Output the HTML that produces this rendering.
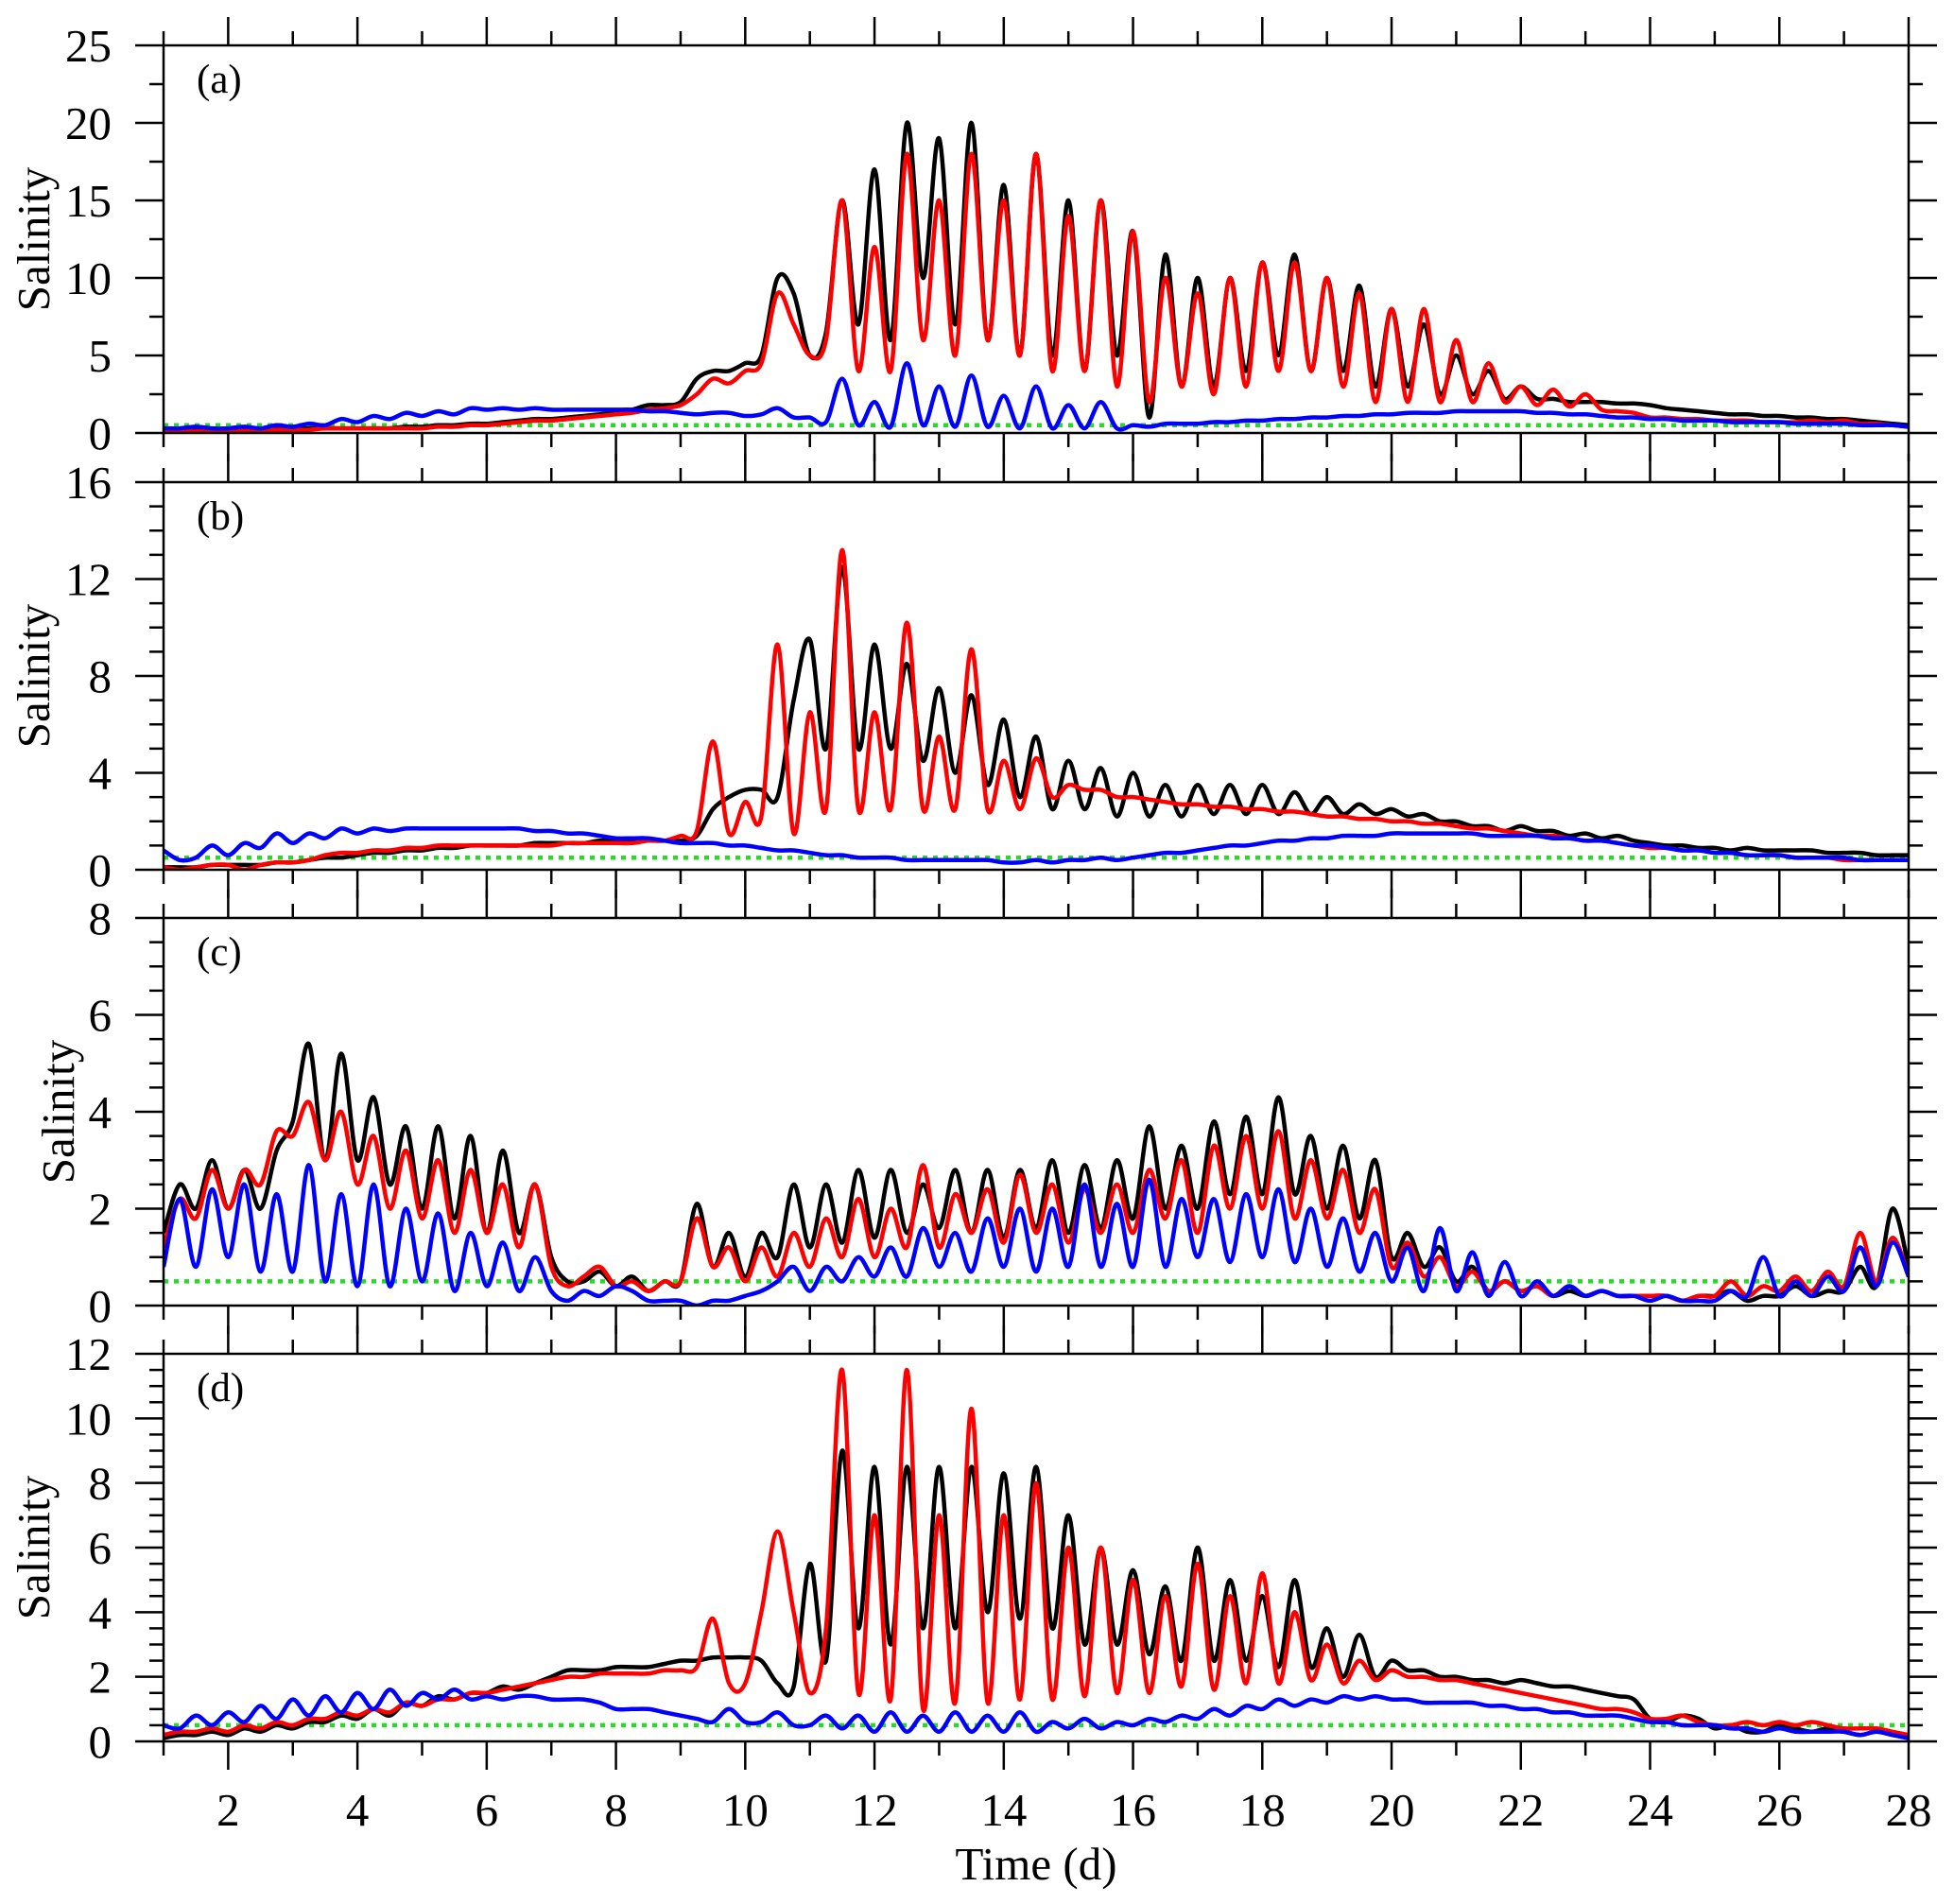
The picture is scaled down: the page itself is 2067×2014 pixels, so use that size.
<!DOCTYPE html>
<html><head><meta charset="utf-8"><style>
html,body{margin:0;padding:0;background:#fff}
svg{display:block}
text{font-family:"Liberation Serif",serif;fill:#000}
</style></head><body>
<svg id="chart" width="2067" height="2014" viewBox="0 0 2067 2014"></svg>
<script>
// time axis: t = 1 + 0.25*i
const days = [1,2,3,4,5,6,7,8,9,10,11,12,13,14,15,16,17,18,19,20,21,22,23,24,25,26,27,28];
const xTickLabels = [2,4,6,8,10,12,14,16,18,20,22,24,26,28];
const threshold = 0.5;

const aK = [.2,.2,.2,.2, .2,.2,.2,.3, .3,.3,.3,.3, .3,.3,.3,.4, .4,.5,.5,.6, .6,.7,.8,.9, .9,1.0,1.1,1.2, 1.3,1.5,1.8,1.8, 2.0,3.5,4,4, 4.5,5,10,9, 5,6.5,15,7, 17,6,20,10, 19,7,20,6, 16,5,18,5, 15,4,15,5, 13,1,11.5,3, 10,3,10,4, 11,5,11.5,4, 10,4,9.5,3, 8,3,7,2.5, 5,2.5,4,2.2, 3,2.2,2.2,2, 2,2,1.9,1.9, 1.8,1.6,1.5,1.4, 1.3,1.2,1.2,1.1, 1.1,1.0,1.0,.9, .9,.8,.7,.6, .5];
const aR = [.1,.1,.1,.1, .1,.2,.2,.2, .2,.2,.3,.3, .3,.3,.3,.3, .3,.4,.4,.5, .5,.6,.7,.8, .8,.9,1.0,1.1, 1.2,1.3,1.5,1.6, 1.8,2.5,3.5,3.2, 4,4.5,9,7, 5,6,15,4, 12,4,18,6, 15,5,18,6, 15,5,18,4, 14,4,15,3, 13,2,10,3, 9,2.5,10,3, 11,4,11,4, 10,3,9,2, 8,2,8,2, 6,2,4.5,2, 3,1.8,2.8,1.7, 2.5,1.5,1.4,1.3, 1.0,1.0,.9,.9, .8,.8,.8,.7, .7,.7,.8,.7, .8,.6,.6,.5, .4];
const aB = [.3,.3,.4,.3, .3,.4,.3,.5, .4,.6,.5,.9, .7,1.1,.9,1.3, 1.1,1.4,1.2,1.6, 1.5,1.6,1.5,1.6, 1.5,1.5,1.5,1.5, 1.5,1.5,1.4,1.4, 1.3,1.2,1.3,1.3, 1.1,1.2,1.6,1.0, 1.0,.7,3.5,.5, 2,.4,4.5,.5, 3,.4,3.7,.4, 2.4,.3,3,.3, 1.8,.3,2,.3, .5,.4,.6,.6, .6,.7,.7,.8, .8,.9,.9,1.0, 1.0,1.1,1.1,1.2, 1.2,1.3,1.3,1.3, 1.4,1.4,1.4,1.4, 1.4,1.3,1.3,1.2, 1.2,1.1,1.0,1.0, .9,.9,.8,.8, .8,.7,.7,.7, .7,.6,.6,.6, .6,.5,.5,.5, .4];

const bK = [.1,.1,.1,.2, .2,.2,.2,.3, .3,.4,.5,.5, .6,.7,.7,.8, .8,.9,.9,1.0, 1.0,1.0,1.0,1.1, 1.1,1.1,1.1,1.2, 1.2,1.2,1.2,1.2, 1.2,1.4,2.5,3.0, 3.3,3.3,3.0,7, 9.5,5,12.5,5, 9.3,5,8.5,4.5, 7.5,4,7.2,3.5, 6.2,3,5.5,2.5, 4.5,2.5,4.2,2.2, 4,2.2,3.5,2.2, 3.5,2.3,3.5,2.3, 3.5,2.3,3.2,2.3, 3,2.3,2.7,2.3, 2.5,2.2,2.3,2.0, 2.0,1.8,1.8,1.6, 1.8,1.6,1.6,1.4, 1.5,1.3,1.4,1.2, 1.1,1.0,1.0,.9, .9,.8,.9,.8, .8,.8,.8,.7, .7,.7,.6,.6, .6];
const bR = [.1,0,.1,.2, .2,0,.2,.3, .3,.4,.6,.7, .7,.8,.8,.9, .9,1.0,1.0,1.0, 1.0,1.0,1.0,1.0, 1.0,1.1,1.1,1.1, 1.1,1.1,1.2,1.2, 1.4,1.6,5.3,1.5, 2.8,2.2,9.3,1.5, 6.5,2.5,13.2,2.5, 6.5,2.5,10.2,2.5, 5.5,2.5,9.1,2.5, 4.5,2.5,4.6,3.0, 3.5,3.3,3.3,3.0, 3.0,2.9,2.8,2.7, 2.7,2.6,2.6,2.5, 2.5,2.4,2.4,2.3, 2.2,2.2,2.1,2.1, 2.0,2.0,1.9,1.9, 1.8,1.7,1.7,1.6, 1.5,1.4,1.4,1.3, 1.2,1.2,1.1,1.0, .9,.9,.8,.8, .7,.7,.6,.6, .6,.5,.5,.5, .4,.4,.4,.4, .4];
const bB = [.8,.4,.5,1.0, .6,1.1,.9,1.5, 1.1,1.5,1.3,1.7, 1.5,1.7,1.6,1.7, 1.7,1.7,1.7,1.7, 1.7,1.7,1.7,1.6, 1.6,1.5,1.5,1.4, 1.3,1.3,1.3,1.2, 1.1,1.1,1.1,1.0, 1.0,.9,.8,.8, .7,.6,.6,.5, .5,.5,.4,.4, .4,.4,.4,.4, .3,.3,.4,.3, .4,.4,.5,.4, .5,.6,.7,.7, .8,.9,1.0,1.0, 1.1,1.2,1.2,1.3, 1.3,1.4,1.4,1.4, 1.5,1.5,1.5,1.5, 1.5,1.5,1.4,1.4, 1.4,1.4,1.3,1.3, 1.2,1.2,1.1,1.0, 1.0,.9,.8,.8, .7,.7,.6,.6, .6,.5,.5,.5, .5,.4,.4,.4, .4];

const cK = [1.5,2.5,2.0,3.0, 2.0,2.8,2.0,3.2, 3.8,5.4,3.0,5.2, 3.0,4.3,2.5,3.7, 2.0,3.7,1.8,3.5, 1.5,3.2,1.5,2.5, 1.0,.5,.5,.7, .4,.6,.3,.5, .5,2.1,.8,1.5, .6,1.5,1.0,2.5, 1.2,2.5,1.3,2.8, 1.4,2.8,1.5,2.5, 1.6,2.8,1.5,2.8, 1.4,2.8,1.6,3.0, 1.5,2.9,1.6,3.0, 1.8,3.7,2.0,3.3, 2.0,3.8,2.3,3.9, 2.3,4.3,2.3,3.5, 2.0,3.3,1.8,3.0, 1.0,1.5,.8,1.2, .5,.8,.3,.5, .3,.4,.2,.3, .2,.3,.2,.2, .2,.2,.1,.2, .2,.3,.1,.2, .2,.4,.2,.3, .3,.8,.4,2.0, .8];
const cR = [1.2,2.2,1.8,2.8, 2.0,2.8,2.5,3.6, 3.5,4.2,3.0,4.0, 2.5,3.5,2.0,3.2, 1.8,3.0,1.5,2.8, 1.5,2.5,1.2,2.5, .8,.4,.6,.8, .4,.5,.3,.5, .5,1.8,.8,1.2, .5,1.2,.6,1.5, .8,1.8,1.0,2.2, 1.0,2.0,1.2,2.9, 1.2,2.3,1.5,2.4, 1.3,2.7,1.5,2.5, 1.3,2.4,1.5,2.5, 1.5,2.8,1.8,3.0, 1.5,3.3,2.0,3.5, 2.0,3.6,1.8,3.0, 1.8,2.8,1.5,2.4, .8,1.3,.6,1.0, .4,.7,.3,.5, .3,.4,.2,.4, .2,.3,.2,.2, .2,.2,.1,.2, .2,.5,.2,.4, .3,.6,.3,.7, .4,1.5,.5,1.4, .6];
const cB = [.8,2.2,.8,2.4, 1.0,2.5,.7,2.3, .7,2.9,.5,2.3, .4,2.5,.4,2.0, .5,1.9,.3,1.5, .4,1.3,.3,1.0, .3,.1,.3,.2, .4,.3,.1,.1, .1,0,.1,.1, .2,.3,.5,.8, .3,.8,.5,1.0, .6,1.2,.6,1.6, .8,1.5,.7,1.8, .8,2.0,.7,2.0, .8,2.5,.8,2.1, .8,2.6,.8,2.2, 1.0,2.2,.9,2.3, 1.0,2.4,.9,2.0, .8,1.8,.7,1.5, .5,1.2,.3,1.6, .3,1.1,.2,.9, .2,.5,.2,.4, .2,.3,.2,.2, .1,.2,.1,.1, .1,.3,.2,1.0, .2,.5,.2,.6, .3,1.2,.4,1.3, .6];

const dK = [.1,.2,.2,.3, .2,.4,.3,.5, .4,.6,.6,.8, .7,1.0,.8,1.2, 1.1,1.4,1.3,1.5, 1.5,1.7,1.6,1.8, 2.0,2.2,2.2,2.2, 2.3,2.3,2.3,2.4, 2.5,2.5,2.6,2.6, 2.6,2.5,1.8,1.7, 5.5,2.5,9,3.5, 8.5,3,8.5,3.5, 8.5,3.5,8.5,4, 8.3,3.8,8.5,3.5, 7,3,6,3, 5.3,2.7,4.8,2.5, 6,2.5,5,2.5, 4.5,2.3,5,2.3, 3.5,2.0,3.3,2.0, 2.5,2.2,2.2,2.0, 2.0,1.9,1.9,1.8, 1.9,1.8,1.7,1.7, 1.6,1.5,1.4,1.3, .7,.6,.8,.7, .4,.5,.3,.3, .5,.4,.3,.4, .3,.2,.3,.2, .1];
const dR = [.2,.3,.3,.4, .3,.5,.4,.6, .5,.7,.7,.9, .8,1.0,.9,1.2, 1.1,1.3,1.3,1.5, 1.5,1.6,1.7,1.8, 1.9,2.0,2.0,2.1, 2.1,2.1,2.1,2.2, 2.2,2.3,3.8,1.8, 1.8,4.0,6.5,4.0, 1.5,3.5,11.5,1.5, 7,1.3,11.5,1.0, 7,1.2,10.3,1.2, 7,1.3,8,1.3, 6,1.4,6,1.5, 5,1.5,4.5,1.7, 5.5,1.6,4.5,1.8, 5.2,1.8,4,1.9, 3,1.8,2.5,1.9, 2.2,2.0,2.0,1.9, 1.9,1.8,1.7,1.6, 1.5,1.4,1.3,1.2, 1.1,1.0,1.0,.9, .7,.7,.8,.6, .5,.5,.6,.5, .6,.5,.6,.5, .4,.4,.4,.3, .2];
const dB = [.5,.4,.8,.5, .9,.6,1.1,.7, 1.3,.8,1.4,.9, 1.5,1.0,1.6,1.1, 1.5,1.3,1.6,1.3, 1.4,1.3,1.4,1.4, 1.3,1.3,1.3,1.2, 1.0,1.0,1.0,.9, .8,.7,.6,1.0, .6,.6,.9,.5, .5,.8,.4,.8, .3,.9,.3,.8, .3,.9,.3,.8, .3,.9,.3,.6, .4,.7,.4,.6, .5,.7,.6,.8, .7,1.0,.8,1.1, 1.0,1.3,1.1,1.3, 1.2,1.4,1.3,1.4, 1.3,1.3,1.2,1.2, 1.2,1.2,1.1,1.1, 1.0,1.0,.9,.9, .8,.8,.8,.7, .6,.6,.5,.5, .5,.4,.4,.3, .4,.3,.3,.3, .3,.2,.3,.2, .1];

const panels = [
  {id:'a', top:48, ymax:25, major:5, minor:2.5, ylabels:[0,5,10,15,20,25], series:[aK,aR,aB], labX:36},
  {id:'b', top:510, ymax:16, major:4, minor:1, ylabels:[0,4,8,12,16], series:[bK,bR,bB], labX:36},
  {id:'c', top:971, ymax:8, major:2, minor:0.5, ylabels:[0,2,4,6,8], series:[cK,cR,cB], labX:62},
  {id:'d', top:1432, ymax:12, major:2, minor:0.5, ylabels:[0,2,4,6,8,10,12], series:[dK,dR,dB], labX:36}
];
const colors = ['#000000','#ff0000','#0000ff'];
const names = ['black-series','red-series','blue-series'];
const X0=173, X1=2019, H=410;
const NS='http://www.w3.org/2000/svg';
const svg=document.getElementById('chart');
function xs(t){return X0+(t-1)/27*(X1-X0);}
function mk(tag,attrs,parent){const e=document.createElementNS(NS,tag);for(const k in attrs)e.setAttribute(k,attrs[k]);(parent||svg).appendChild(e);return e;}
function smoothPath(pts){
  let d='M'+pts[0][0].toFixed(1)+','+pts[0][1].toFixed(1);
  for(let i=0;i<pts.length-1;i++){
    const p0=pts[Math.max(0,i-1)],p1=pts[i],p2=pts[i+1],p3=pts[Math.min(pts.length-1,i+2)];
    const c1x=p1[0]+(p2[0]-p0[0])/6,c1y=p1[1]+(p2[1]-p0[1])/6;
    const c2x=p2[0]-(p3[0]-p1[0])/6,c2y=p2[1]-(p3[1]-p1[1])/6;
    d+='C'+c1x.toFixed(1)+','+c1y.toFixed(1)+' '+c2x.toFixed(1)+','+c2y.toFixed(1)+' '+p2[0].toFixed(1)+','+p2[1].toFixed(1);
  }
  return d;
}

panels.forEach((p,pi)=>{
  const g=mk('g',{});
  
  
  const bot=p.top+H;
  const ys=v=>bot-v/p.ymax*H;
  const cp=mk('clipPath',{id:'clip'+p.id},g);
  mk('rect',{x:X0,y:p.top,width:X1-X0,height:H},cp);
  const th=mk('line',{x1:X0,x2:X1,y1:ys(threshold),y2:ys(threshold),stroke:'#22dd22','stroke-width':4.5,'stroke-dasharray':'5 6'},g);
  
  
  [0,1,2].forEach(si=>{
    const arr=p.series[si];
    const pts=arr.map((v,i)=>[xs(1+0.25*i),ys(v)]);
    const path=mk('path',{d:smoothPath(pts),fill:'none',stroke:colors[si],'stroke-width':4.5,'stroke-linejoin':'round','clip-path':'url(#clip'+p.id+')'},g);
    
    
  });
  const fr=mk('rect',{x:X0,y:p.top,width:X1-X0,height:H,fill:'none',stroke:'#000','stroke-width':2.5},g);
  
  
  for(let v=0;v<=p.ymax+1e-9;v+=p.minor){
    const isMaj=Math.abs(v/p.major-Math.round(v/p.major))<1e-6;
    const L=isMaj?30:15;
    mk('line',{x1:X0-L,x2:X0,y1:ys(v),y2:ys(v),stroke:'#000','stroke-width':2.5},g);
    mk('line',{x1:X1,x2:X1+L,y1:ys(v),y2:ys(v),stroke:'#000','stroke-width':2.5},g);
  }
  p.ylabels.forEach(v=>{
    const t=mk('text',{x:118,y:ys(v)+17,'text-anchor':'end','font-size':49},g);
    t.textContent=v;
    
    
  });
  days.forEach(dd=>{
    const L=(dd%2===0)?30:15;
    mk('line',{x1:xs(dd),x2:xs(dd),y1:p.top-L,y2:p.top,stroke:'#000','stroke-width':2.5},g);
    mk('line',{x1:xs(dd),x2:xs(dd),y1:bot,y2:bot+L,stroke:'#000','stroke-width':2.5},g);
  });
  const yl=mk('text',{x:p.labX+16,y:p.top+H/2,'text-anchor':'middle','font-size':49,transform:'rotate(-90 '+(p.labX+16)+' '+(p.top+H/2)+')'},g);
  yl.textContent='Salinity';
  
  
  const pl=mk('text',{x:208,y:p.top+50,'font-size':43},g);
  pl.textContent='('+p.id+')';
  
  
});
xTickLabels.forEach(v=>{
  const t=mk('text',{x:xs(v),y:1931,'text-anchor':'middle','font-size':49});
  t.textContent=v;
  
  
});
const xt=mk('text',{x:1096,y:1988,'text-anchor':'middle','font-size':49});
xt.textContent='Time (d)';


</script>
</body></html>
